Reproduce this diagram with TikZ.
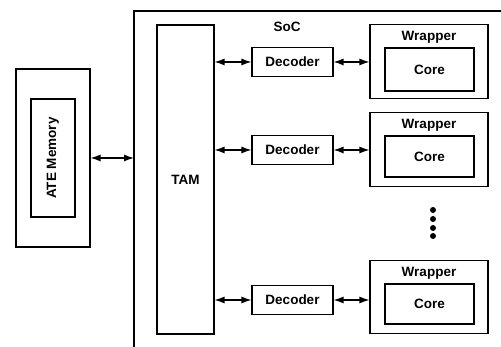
\documentclass[tikz,border=0pt]{standalone}
\usepackage{fontspec}
\setmainfont{Liberation Sans}
\usetikzlibrary{positioning,arrows.meta,calc}

\begin{document}
\begin{tikzpicture}[
  x=1pt, y=1pt,
  font=\fontsize{13.5}{15}\selectfont\bfseries,
  line width=1.1pt,
  blk/.style={draw, rectangle, inner sep=0pt},
  txt/.style={inner sep=0pt},
  arrow/.style={{Latex[length=10pt,width=7pt]}-{Latex[length=10pt,width=7pt]}, line width=1.2pt}
]
\useasboundingbox (0,0) rectangle (501,347);

% ATE side
\node[blk, minimum width=74pt, minimum height=178pt] (ate) at (53,189) {};
\node[blk, minimum width=44pt, minimum height=118pt] (mem) at (53,189)
  {\rotatebox{90}{ATE Memory}};

% SoC boundary (cut off at right and bottom)
\coordinate (soc) at (134,336);
\draw (501,336) -- (soc) -- (134,0);
\node[txt] (soclbl) at (287,320) {SoC};

% TAM
\node[blk, minimum width=57pt, minimum height=309pt] (tam) at (185.5,167.5) {TAM};

% decoders
\node[blk, minimum width=81pt, minimum height=29pt] (dec1) at (292.5,285) {Decoder};
\node[blk, minimum width=81pt, minimum height=29pt] (dec2) at (292.5,197) {Decoder};
\node[blk, minimum width=81pt, minimum height=29pt] (dec3) at (292.5,47) {Decoder};

% wrappers with cores
\node[blk, minimum width=118pt, minimum height=74pt] (wrp1) at (429,285.5) {};
\node[blk, minimum width=118pt, minimum height=74pt] (wrp2) at (429,197.5) {};
\node[blk, minimum width=118pt, minimum height=73pt] (wrp3) at (429,50) {};
\node[txt, below=7pt of wrp1.north] (wl1) {Wrapper};
\node[txt, below=7pt of wrp2.north] (wl2) {Wrapper};
\node[txt, below=7pt of wrp3.north] (wl3) {Wrapper};
\node[blk, minimum width=89pt, minimum height=43pt] (core1) at (429.5,277.5) {Core};
\node[blk, minimum width=89pt, minimum height=41pt] (core2) at (429.5,190.5) {Core};
\node[blk, minimum width=89pt, minimum height=40pt] (core3) at (429.5,43) {Core};

% more cores
\foreach \yy [count=\i] in {137,128,119,111}
  \fill (433,\yy) circle (3pt) coordinate (dot\i);

% links
\draw[arrow] (ate.east) -- (ate.east -| soc);
\draw[arrow] (dec1.west -| tam.east) -- (dec1.west);
\draw[arrow] (dec2.west -| tam.east) -- (dec2.west);
\draw[arrow] (dec3.west -| tam.east) -- (dec3.west);
\draw[arrow] (dec1.east) -- (dec1.east -| wrp1.west);
\draw[arrow] (dec2.east) -- (dec2.east -| wrp2.west);
\draw[arrow] (dec3.east) -- (dec3.east -| wrp3.west);
\end{tikzpicture}
\end{document}
